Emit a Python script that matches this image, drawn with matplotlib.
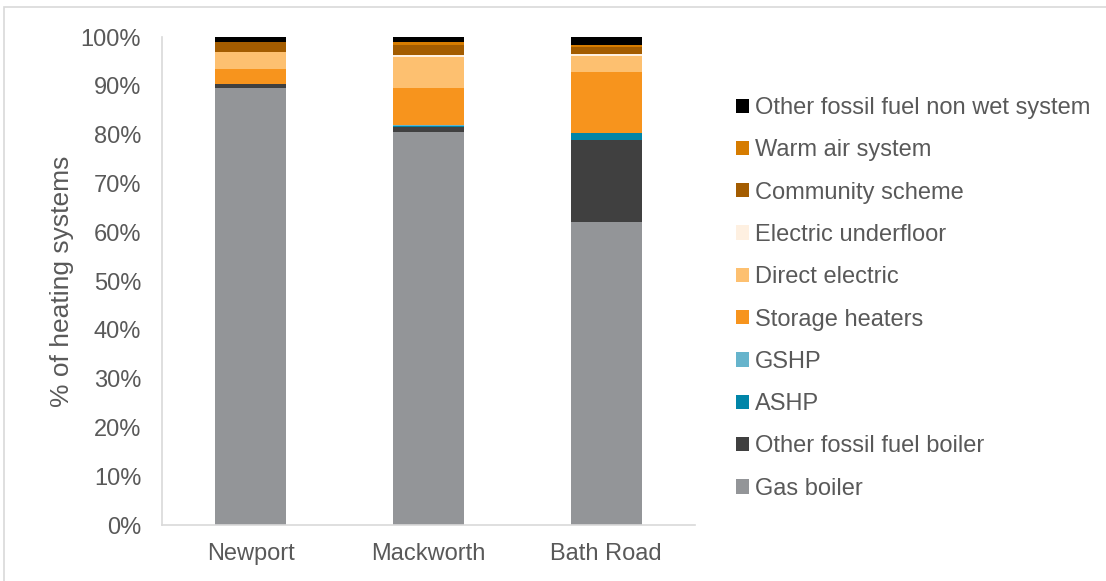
import matplotlib.pyplot as plt
from matplotlib.patches import Rectangle
from matplotlib.ticker import PercentFormatter

plt.rcParams['font.family'] = ['Liberation Sans', 'DejaVu Sans']

sites = ['Newport', 'Mackworth', 'Bath Road']

# share of heating systems (%) per site, stacked bottom to top
series = [
    'Gas boiler',
    'Other fossil fuel boiler',
    'ASHP',
    'GSHP',
    'Storage heaters',
    'Direct electric',
    'Electric underfloor',
    'Community scheme',
    'Warm air system',
    'Other fossil fuel non wet system',
]
gas_boiler = [89.6, 80.6, 62.1]
other_fossil_boiler = [0.7, 0.9, 16.7]
ashp = [0.0, 0.3, 1.5]
gshp = [0.0, 0.2, 0.0]
storage_heaters = [3.2, 7.6, 12.5]
direct_electric = [3.4, 6.3, 3.4]
electric_underfloor = [0.0, 0.4, 0.4]
community_scheme = [2.0, 2.0, 1.3]
warm_air = [0.0, 0.7, 0.4]
other_fossil_non_wet = [1.1, 1.0, 1.7]

values = [gas_boiler, other_fossil_boiler, ashp, gshp, storage_heaters,
          direct_electric, electric_underfloor, community_scheme, warm_air,
          other_fossil_non_wet]
colors = ['#939598', '#404040', '#0085a8', '#66b4cc', '#f7941d',
          '#fdc070', '#fef0e1', '#a35c00', '#d67c00', '#000000']

text_col = '#595959'
axis_col = '#d9d9d9'

fig = plt.figure(figsize=(11.06, 5.81), dpi=100)
ax = fig.add_axes([162 / 1106, 1 - 525 / 581, (695 - 162) / 1106, (525 - 37) / 581])

x = range(len(sites))
bottom = [0.0] * len(sites)
handles = []
for name, vals, col in zip(series, values, colors):
    b = ax.bar(x, vals, width=0.4, bottom=bottom, color=col, label=name)
    handles.append(b)
    bottom = [p + q for p, q in zip(bottom, vals)]

ax.set_xlim(-0.5, 2.5)
ax.set_ylim(0, 100)
ax.set_yticks(range(0, 101, 10))
ax.yaxis.set_major_formatter(PercentFormatter(decimals=0))
ax.set_xticks(list(x))
ax.set_xticklabels(sites)
ax.tick_params(axis='both', length=0, labelsize=17, colors=text_col)
ax.tick_params(axis='y', pad=15)
ax.tick_params(axis='x', pad=13)
for s in ['top', 'right']:
    ax.spines[s].set_visible(False)
for s in ['left', 'bottom']:
    ax.spines[s].set_color(axis_col)
    ax.spines[s].set_linewidth(1.2)
ax.set_ylabel('% of heating systems', fontsize=19, color=text_col, labelpad=5)

leg = ax.legend(handles[::-1], series[::-1], loc='upper left',
                bbox_to_anchor=(736 / 1106, 1 - 97 / 581),
                bbox_transform=fig.transFigure, frameon=False, fontsize=17,
                handlelength=0.55, handleheight=0.55, handletextpad=0.25,
                labelspacing=0.86, borderaxespad=0, borderpad=0)
for t in leg.get_texts():
    t.set_color(text_col)

# outer chart frame
fig.patches.append(Rectangle((4 / 1106, -0.05), 1.1, 1 - 7 / 581 + 0.05,
                             transform=fig.transFigure, fill=False,
                             edgecolor=axis_col, linewidth=1.2))

fig.savefig('out.png', dpi=100)
